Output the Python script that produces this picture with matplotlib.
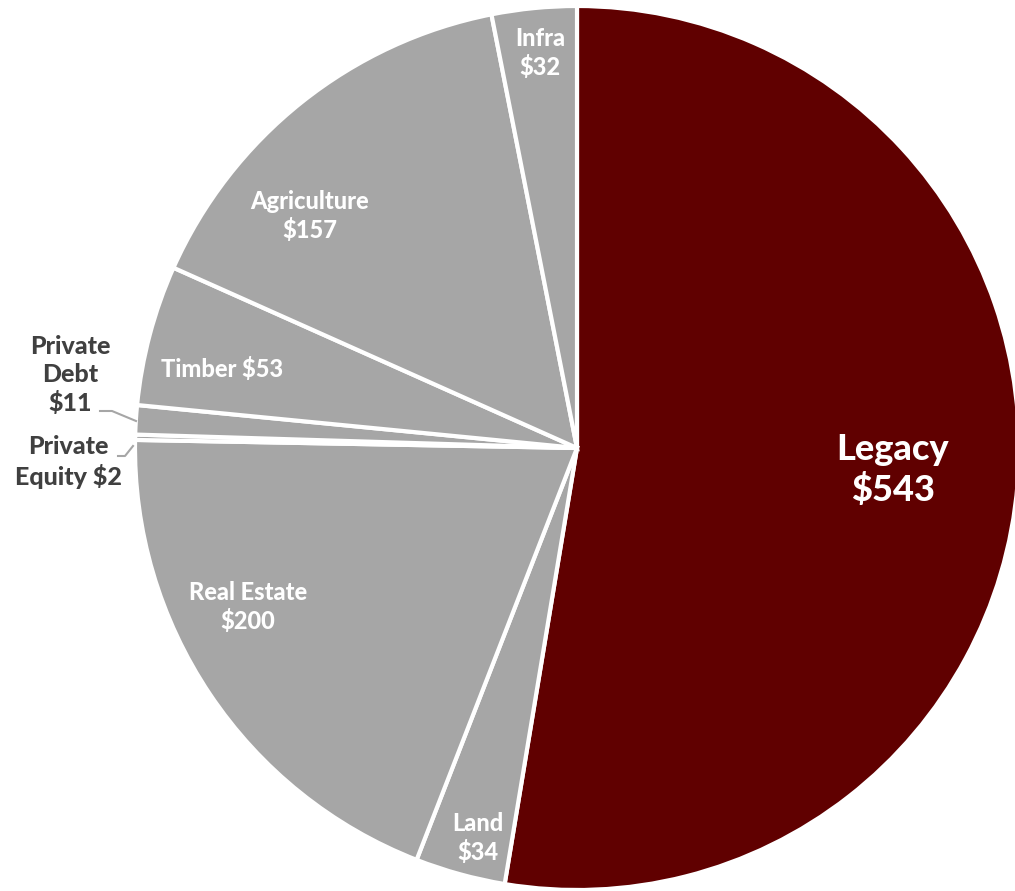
import numpy as np
import matplotlib
matplotlib.use("Agg")
import matplotlib.pyplot as plt

# Data, clockwise from 12 o'clock
categories = ["Legacy", "Land", "Real Estate", "Private Equity",
              "Private Debt", "Timber", "Agriculture", "Infra"]
values = [543, 34, 200, 2, 11, 53, 157, 32]
colors = ["#600000"] + ["#a6a6a6"] * 7

# label text and pixel position of its centre
labels = ["Legacy\n$543", "Land\n$34", "Real Estate\n$200", "Private\nEquity $2",
          "Private\nDebt\n$11", "Timber $53", "Agriculture\n$157", "Infra\n$32"]
label_px = [(893, 470), (478, 838), (248, 607), (68, 462),
            (70, 375), (222, 369), (310, 216), (540, 53)]

W, H = 1015, 891
cx, cy, R = 577, 448, 442

fig = plt.figure(figsize=(W / 100, H / 100), dpi=100)
ax = fig.add_axes([0, 0, 1, 1])
ax.pie(values, colors=colors, startangle=90, counterclock=False,
       radius=1.0, wedgeprops=dict(edgecolor="white", linewidth=3))
ax.set_aspect("auto")
ax.set_xlim(-cx / R, (W - cx) / R)
ax.set_ylim(-(H - cy) / R, cy / R)
ax.axis("off")


def px(x, y):
    return (x - cx) / R, (cy - y) / R


for name, txt, (x, y) in zip(categories, labels, label_px):
    outside = name in ("Private Equity", "Private Debt")
    size = 26 if name == "Legacy" else (18 if outside else 17)
    ax.text(*px(x, y), txt, ha="center", va="center", fontsize=size,
            fontweight=900, family="Lato", linespacing=1.25,
            color="#404040" if outside else "white")

# leader lines for the two thin slices
debt = np.array([px(100, 411), px(112, 411), px(136, 421)])
eq = np.array([px(118, 456), px(125, 456), px(133, 446)])
ax.plot(debt[:, 0], debt[:, 1], color="#a6a6a6", lw=1.5)
ax.plot(eq[:, 0], eq[:, 1], color="#a6a6a6", lw=1.5)

fig.savefig("out.png", dpi=100, facecolor="white")
